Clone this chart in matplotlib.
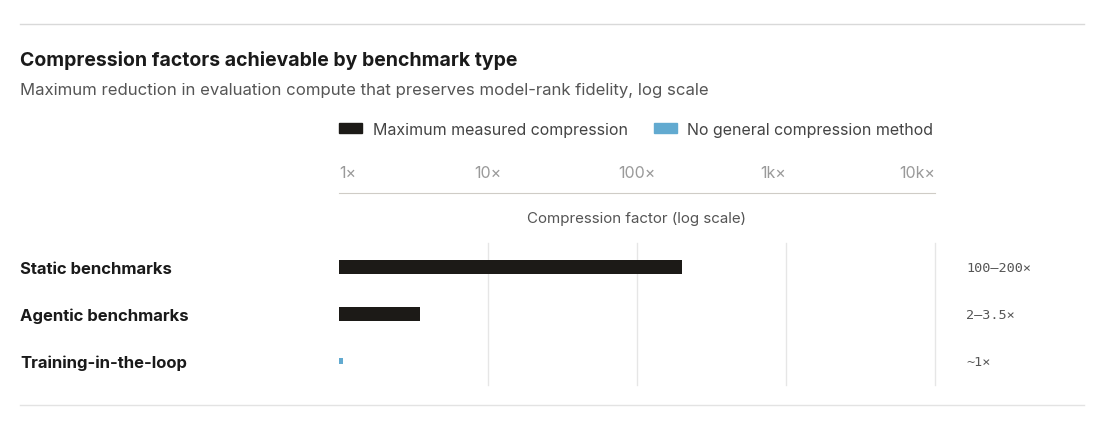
import matplotlib.pyplot as plt
from matplotlib.lines import Line2D
from matplotlib.patches import Patch
from matplotlib.transforms import blended_transform_factory

plt.rcParams['font.family'] = ['Inter', 'DejaVu Sans']

# data
categories = ["Static benchmarks", "Agentic benchmarks", "Training-in-the-loop"]
compression = [200, 3.5, 1.07]
range_labels = ["100–200×", "2–3.5×", "~1×"]
has_method = [True, True, False]
tick_values = [1, 10, 100, 1000, 10000]
tick_labels = ["1×", "10×", "100×", "1k×", "10k×"]

BLACK = "#1c1a17"
BLUE = "#62aad0"
W, H = 1109, 427


def fx(px):
    return px / W


def fy(py):
    return 1 - py / H


fig = plt.figure(figsize=(W / 100, H / 100), dpi=100)

# main bar axes
ax = fig.add_axes([fx(339), fy(386), fx(935) - fx(339), fy(244) - fy(386)])
ax.set_xscale("log")
ax.set_xlim(1, 10000)
ax.set_ylim(2.51, -0.51)
for i, (val, ok) in enumerate(zip(compression, has_method)):
    color = BLACK if ok else BLUE
    h = 0.3 if ok else 0.13
    ax.barh(i, val - 1, left=1, height=h, color=color, edgecolor="none", zorder=3)
for t in tick_values[1:]:
    ax.axvline(t, color="#e6e6e6", lw=1, zorder=1, clip_on=False)
for s in ax.spines.values():
    s.set_visible(False)
ax.set_xticks([])
ax.set_xticks([], minor=True)
ax.set_yticks([])

row_tr = blended_transform_factory(fig.transFigure, ax.transData)
val_tr = blended_transform_factory(ax.transAxes, ax.transData)
for i, name in enumerate(categories):
    fig.text(fx(20), i + 0.03, name, transform=row_tr, fontsize=12, fontweight="bold",
             color="#1a1a1a", va="center", ha="left")
    ax.text(1.052, i + 0.02, range_labels[i], transform=val_tr,
            fontsize=9.7, family="DejaVu Sans Mono", color="#555555", va="center", ha="left")

# top scale axes
axt = fig.add_axes([fx(339), fy(194), fx(935) - fx(339), 0.0001])
axt.set_xscale("log")
axt.set_xlim(1, 10000)
axt.set_yticks([])
for k in ["top", "left", "right"]:
    axt.spines[k].set_visible(False)
axt.spines["bottom"].set_color("#cfccc6")
axt.set_xticks(tick_values)
axt.set_xticks([], minor=True)
axt.set_xticklabels(tick_labels)
axt.tick_params(axis="x", bottom=False, top=False, labelbottom=False, labeltop=True,
                pad=5.5, labelsize=11.5, labelcolor="#9a9a9a")
aligns = ["left", "center", "center", "right", "right"]
for lab, a in zip(axt.get_xticklabels(), aligns):
    lab.set_ha(a)

fig.text((fx(339) + fx(935)) / 2, fy(219), "Compression factor (log scale)",
         fontsize=10.9, color="#555555", ha="center", va="center")

# title and subtitle
fig.text(fx(20), fy(61), "Compression factors achievable by benchmark type",
         fontsize=14, fontweight="bold", color="#1a1a1a", ha="left", va="center")
fig.text(fx(20), fy(91), "Maximum reduction in evaluation compute that preserves model-rank fidelity, log scale",
         fontsize=12.05, color="#555555", ha="left", va="center")

# legend
handles = [Patch(color=BLACK, label="Maximum measured compression"),
           Patch(color=BLUE, label="No general compression method")]
fig.legend(handles=handles, loc="center left", bbox_to_anchor=(fx(339), fy(130)),
           ncol=2, frameon=False, fontsize=11.5, labelcolor="#444444",
           handlelength=1.45, handleheight=0.6, handletextpad=0.65, columnspacing=1.65,
           borderpad=0, borderaxespad=0)

# rules
fig.add_artist(Line2D([fx(20), fx(1084)], [fy(25), fy(25)], color="#d9d9d9", lw=1))
fig.add_artist(Line2D([fx(20), fx(1084)], [fy(406), fy(406)], color="#e3e3e3", lw=1))

fig.savefig("out.png", dpi=100, facecolor="white")
